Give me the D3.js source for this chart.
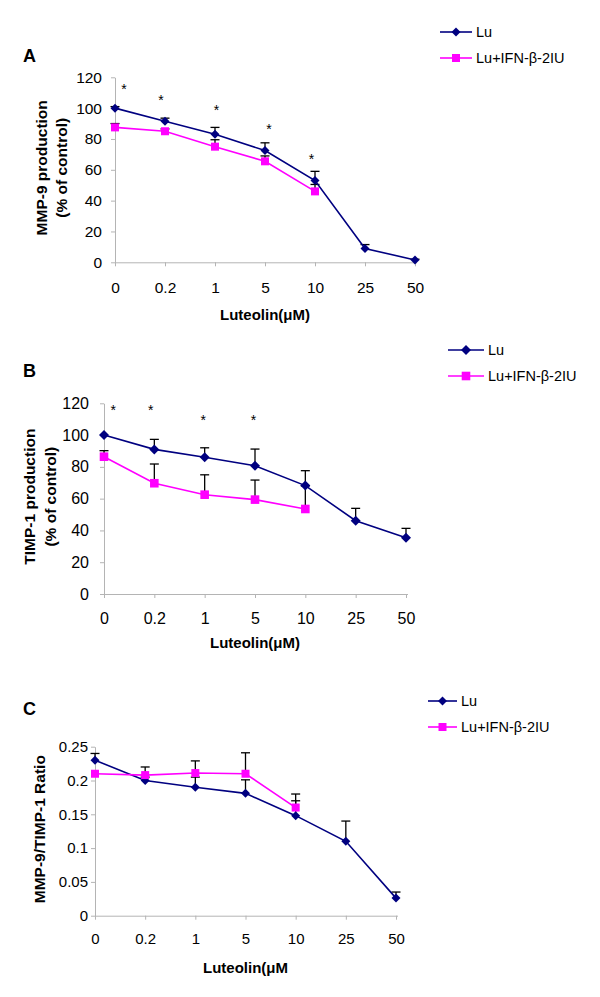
<!DOCTYPE html>
<html>
<head>
<meta charset="utf-8">
<script src="https://cdn.jsdelivr.net/npm/d3@7"></script>
<style>
body { margin: 0; background: #fff; }
text { font-family: "Liberation Sans", Arial, sans-serif; }
</style>
</head>
<body>
<div id="canvas"></div>
<script>
var categories = ["0", "0.2", "1", "5", "10", "25", "50"]
var seriesNames = ["Lu", "Lu+IFN-\u03b2-2IU"]

// panel A : MMP-9 production
var luA = [100, 91.5, 83, 72.5, 53, 9, 1.5]
var luAErr = [1, 2, 4.5, 5, 6, 2.5, 0.5]
var ifnA = [87.5, 85, 75, 65.5, 46]
var ifnAErr = [2.5, 1.5, 4.5, 3.5, 4.5]
var starsAx = [0.18, 0.92, 2.03, 3.08, 3.93]
var starsAy = [114.5, 107.5, 100.5, 88.5, 69]
var ticksA = [0, 20, 40, 60, 80, 100, 120]

// panel B : TIMP-1 production
var luB = [100, 91, 86, 80.7, 68.2, 46.1, 35.4]
var luBErr = [0, 6.3, 6, 10.5, 9.4, 7.8, 5.9]
var ifnB = [86.4, 69.7, 62.5, 59.4, 53.5]
var ifnBErr = [3.8, 12.1, 12.5, 12.3, 14.5]
var starsBx = [0.185, 0.93, 1.97, 2.97]
var starsBy = [117.5, 117.5, 111.6, 111.6]
var ticksB = [0, 20, 40, 60, 80, 100, 120]

// panel C : ratio
var luC = [0.23, 0.2, 0.19, 0.181, 0.148, 0.11, 0.026]
var luCErr = [0.01, 0.005, 0.015, 0.02, 0.022, 0.03, 0.009]
var ifnC = [0.21, 0.208, 0.211, 0.21, 0.16]
var ifnCErr = [0, 0.012, 0.018, 0.031, 0.02]
var ticksC = [0, 0.05, 0.1, 0.15, 0.2, 0.25]

var svg = d3.select('#canvas').append("svg")
	.attr("width", 600)
	.attr("height", 997)

var navy = "#000080"
var magenta = "#ff00ff"
var axisGray = "#b4b4b4"

function diamond(r) {
	return "M0," + (-r) + "L" + r + ",0L0," + r + "L" + (-r) + ",0Z"
}
function square(r) {
	return "M" + (-r) + "," + (-r) + "h" + (2*r) + "v" + (2*r) + "h" + (-2*r) + "Z"
}

function drawPanel(p) {
	var g = svg.append("g")

	var x = d3.scalePoint().domain(categories).range([p.left, p.right])
	var y = d3.scaleLinear().domain([0, p.max]).range([p.bottom, p.top])
	var step = x.step()

	// axes
	var yAxis = d3.axisLeft(y).tickValues(p.ticks).tickSize(4).tickSizeOuter(0)
		.tickPadding(p.yPad).tickFormat(function (d) { return d; })
	var ya = g.append("g").attr("transform", "translate(" + p.left + ",0)").call(yAxis)
	var xAxis = d3.axisBottom(x).tickSize(4).tickSizeOuter(0).tickPadding(p.xPad)
	var xa = g.append("g").attr("transform", "translate(0," + p.bottom + ")").call(xAxis)
	xa.select(".domain").attr("d", "M" + p.left + ",0.5H" + (p.right + 2))
	;[ya, xa].forEach(function (a) {
		a.select(".domain").attr("stroke", axisGray)
		a.selectAll(".tick line").attr("stroke", axisGray)
		a.selectAll(".tick text").attr("fill", "#000")
			.style("font-size", p.tickFont + "px")
			.style("font-family", "'Liberation Sans', Arial, sans-serif")
	})

	var series = [
		{ values: p.lu, err: p.luErr, color: navy, shape: diamond(p.dr) },
		{ values: p.ifn, err: p.ifnErr, color: magenta, shape: square(p.sr) }
	]

	// error bars (plus direction only)
	series.forEach(function (s) {
		var eb = g.append("g")
		s.values.forEach(function (v, i) {
			if (!s.err[i]) return
			var cx = x(categories[i])
			var top = y(v + s.err[i])
			eb.append("line").attr("x1", cx).attr("x2", cx)
				.attr("y1", y(v)).attr("y2", top)
				.attr("stroke", "#000").attr("stroke-width", 1.3)
			eb.append("line").attr("x1", cx - 4.5).attr("x2", cx + 4.5)
				.attr("y1", top).attr("y2", top)
				.attr("stroke", "#000").attr("stroke-width", 1.3)
		})
	})

	var line = d3.line()
		.x(function (d, i) { return x(categories[i]); })
		.y(function (d) { return y(d); })

	series.forEach(function (s) {
		g.append("path").datum(s.values)
			.attr("d", line)
			.attr("fill", "none")
			.attr("stroke", s.color)
			.attr("stroke-width", 1.6)
		g.selectAll(null).data(s.values).enter().append("path")
			.attr("d", s.shape)
			.attr("transform", function (d, i) { return "translate(" + x(categories[i]) + "," + y(d) + ")"; })
			.attr("fill", s.color)
	})

	// significance stars
	if (p.starsX) {
		p.starsX.forEach(function (sx, i) {
			g.append("text")
				.attr("x", p.left + sx * step)
				.attr("y", y(p.starsY[i]) + 8)
				.attr("text-anchor", "middle")
				.style("font-size", "14px")
				.text("*")
		})
	}

	// titles
	g.append("text")
		.attr("x", (p.left + p.right) / 2)
		.attr("y", p.bottom + p.xTitleDy)
		.attr("text-anchor", "middle")
		.style("font-size", "15px")
		.style("font-weight", "bold")
		.text(p.xTitle)

	var yt = g.append("text")
		.attr("transform", "translate(" + p.yTitleX + "," + ((p.top + p.bottom) / 2 - 2) + ") rotate(-90)")
		.attr("text-anchor", "middle")
		.style("font-size", "15.5px")
		.style("font-weight", "bold")
	p.yTitle.forEach(function (t, i) {
		yt.append("tspan").attr("x", 0).attr("dy", i == 0 ? 0 : p.yTitleGap).text(t)
	})

	g.append("text")
		.attr("x", 23)
		.attr("y", p.letterY)
		.style("font-size", "18px")
		.style("font-weight", "bold")
		.text(p.letter)

	// legend
	series.forEach(function (s, i) {
		var ly = p.legY + i * p.legGap
		g.append("line").attr("x1", p.legX).attr("x2", p.legX + p.legLen)
			.attr("y1", ly).attr("y2", ly)
			.attr("stroke", s.color).attr("stroke-width", 1.6)
		g.append("path").attr("d", s.shape)
			.attr("transform", "translate(" + (p.legX + p.legLen / 2) + "," + ly + ")")
			.attr("fill", s.color)
		g.append("text").attr("x", p.legX + p.legLen + 4).attr("y", ly + 5)
			.style("font-size", "14.5px")
			.text(seriesNames[i])
	})
}

drawPanel({
	letter: "A", letterY: 62,
	left: 115, right: 415, top: 77.3, bottom: 262.3, max: 120, ticks: ticksA,
	lu: luA, luErr: luAErr, ifn: ifnA, ifnErr: ifnAErr,
	starsX: starsAx, starsY: starsAy,
	yPad: 9, xPad: 16, tickFont: 15.5, dr: 4.5, sr: 4,
	xTitle: "Luteolin(\u03bcM)", xTitleDy: 58,
	yTitle: ["MMP-9 production", "(% of control)"], yTitleX: 47, yTitleGap: 20,
	legX: 440, legLen: 32, legY: 32, legGap: 26
})

drawPanel({
	letter: "B", letterY: 377,
	left: 104, right: 406, top: 403.3, bottom: 594, max: 120, ticks: ticksB,
	lu: luB, luErr: luBErr, ifn: ifnB, ifnErr: ifnBErr,
	starsX: starsBx, starsY: starsBy,
	yPad: 11, xPad: 15, tickFont: 16, dr: 5, sr: 4.3,
	xTitle: "Luteolin(\u03bcM)", xTitleDy: 54,
	yTitle: ["TIMP-1 production", "(% of control)"], yTitleX: 35, yTitleGap: 21,
	legX: 448, legLen: 36, legY: 350, legGap: 26
})

drawPanel({
	letter: "C", letterY: 715,
	left: 95, right: 396, top: 746.7, bottom: 915.7, max: 0.25, ticks: ticksC,
	lu: luC, luErr: luCErr, ifn: ifnC, ifnErr: ifnCErr,
	starsX: null, starsY: null,
	yPad: 3, xPad: 14, tickFont: 15, dr: 4.5, sr: 4,
	xTitle: "Luteolin(\u03bcM", xTitleDy: 57,
	yTitle: ["MMP-9/TIMP-1 Ratio"], yTitleX: 45, yTitleGap: 0,
	legX: 428, legLen: 29, legY: 701, legGap: 26
})
</script>
</body>
</html>
